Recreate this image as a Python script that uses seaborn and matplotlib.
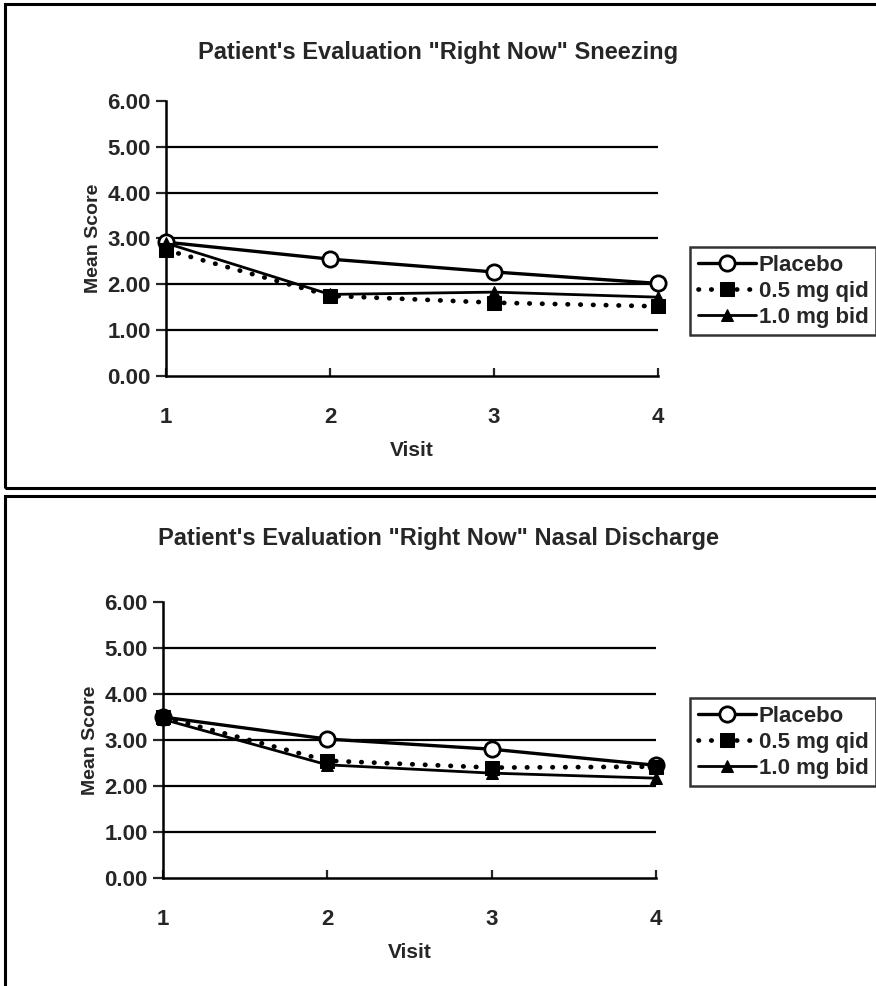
import matplotlib
matplotlib.use("Agg")
import matplotlib.pyplot as plt
from matplotlib.patches import Rectangle
import pandas as pd
import seaborn as sns

# Data
visits = [1, 2, 3, 4]
series_names = ["Placebo", "0.5 mg qid", "1.0 mg bid"]

sneezing_placebo = [2.92, 2.55, 2.27, 2.02]
sneezing_05qid = [2.75, 1.75, 1.60, 1.52]
sneezing_10bid = [2.90, 1.78, 1.83, 1.72]

discharge_placebo = [3.50, 3.02, 2.80, 2.45]
discharge_05qid = [3.50, 2.55, 2.40, 2.42]
discharge_10bid = [3.45, 2.46, 2.28, 2.17]

titles = ['Patient\'s Evaluation "Right Now" Sneezing',
          'Patient\'s Evaluation "Right Now" Nasal Discharge']
y_ticks = [0, 1, 2, 3, 4, 5, 6]

sns.set_theme(style="white")
plt.rcParams['font.family'] = ['Liberation Sans', 'DejaVu Sans']
plt.rcParams['font.weight'] = 'bold'

styles = {
    "Placebo": dict(marker="o", linestyle="-", linewidth=2.4, markersize=11,
                    markerfacecolor="white", markeredgecolor="black", markeredgewidth=2),
    "0.5 mg qid": dict(marker="s", linestyle=(0, (0.1, 2.6)), linewidth=3.4, markersize=10,
                       markerfacecolor="black", markeredgecolor="black",
                       dash_capstyle="round"),
    "1.0 mg bid": dict(marker="^", linestyle="-", linewidth=2.0, markersize=9,
                       markerfacecolor="black", markeredgecolor="black"),
}


def make_frame(panel):
    rows = []
    for name, vals in zip(series_names, panel):
        for v, s in zip(visits, vals):
            rows.append({"Visit": v, "Mean Score": s, "Group": name})
    return pd.DataFrame(rows)


def draw_panel(fig, rect, title, title_y, df, legend_anchor):
    ax = fig.add_axes(rect)
    for y in y_ticks[1:-1]:
        ax.axhline(y, color="black", linewidth=1.6, zorder=0)
    for name in series_names:
        sub = df[df["Group"] == name]
        sns.lineplot(data=sub, x="Visit", y="Mean Score", ax=ax, color="black",
                     label=name, legend=False, clip_on=False, zorder=3,
                     **styles[name])
    ax.set_xlim(1, 4)
    ax.set_ylim(0, 6)
    ax.set_xticks(visits)
    ax.set_yticks(y_ticks)
    ax.set_yticklabels([f"{t:.2f}" for t in y_ticks], fontsize=16, fontweight="bold")
    ax.set_xticklabels([str(v) for v in visits], fontsize=16, fontweight="bold")
    ax.tick_params(axis="y", direction="out", length=7, width=1.6, pad=4, left=True)
    ax.tick_params(axis="x", direction="in", length=6, width=1.6, pad=22, bottom=True)
    for side in ["top", "right"]:
        ax.spines[side].set_visible(False)
    for side in ["left", "bottom"]:
        ax.spines[side].set_color("black")
        ax.spines[side].set_linewidth(1.8)
    ax.set_xlabel("Visit", fontsize=15, fontweight="bold")
    ax.set_ylabel("Mean Score", fontsize=14, fontweight="bold")
    ax.xaxis.set_label_coords(0.5, -0.235)
    ax.yaxis.set_label_coords(-0.13, 0.5)
    ax.set_facecolor("white")
    fig.text(0.5, title_y, title, ha="center", va="center", fontsize=17, fontweight="bold")
    handles, labels = ax.get_legend_handles_labels()
    leg = fig.legend(handles, labels, loc="upper left", bbox_to_anchor=legend_anchor,
                     bbox_transform=fig.transFigure, frameon=True, fancybox=False,
                     edgecolor="black", fontsize=16, handlelength=2.6,
                     handletextpad=0.15, borderpad=0.35, labelspacing=0.22,
                     borderaxespad=0)
    leg.get_frame().set_linewidth(1.8)
    for t in leg.get_texts():
        t.set_fontweight("bold")
    return ax


fig = plt.figure(figsize=(8.76, 9.86), dpi=100)
fig.patch.set_facecolor("white")

W, H = 876, 986

# panel boxes
fig.patches.append(Rectangle((5 / W, 1 - 488 / H), 0.999, (488 - 4) / H,
                             transform=fig.transFigure, fill=False,
                             edgecolor="black", linewidth=2.2))
fig.patches.append(Rectangle((5 / W, -0.01), 0.999, 1 - 496 / H + 0.01,
                             transform=fig.transFigure, fill=False,
                             edgecolor="black", linewidth=2.2))

top_df = make_frame([sneezing_placebo, sneezing_05qid, sneezing_10bid])
bot_df = make_frame([discharge_placebo, discharge_05qid, discharge_10bid])

draw_panel(fig, [166 / W, 1 - 376 / H, (658 - 166) / W, (376 - 101) / H],
           titles[0], 1 - 53 / H, top_df, (690 / W, 1 - 247 / H))
draw_panel(fig, [163 / W, 1 - 878 / H, (656 - 163) / W, (878 - 602) / H],
           titles[1], 1 - 538 / H, bot_df, (690 / W, 1 - 698 / H))

fig.savefig("out.png", dpi=100, facecolor="white")
